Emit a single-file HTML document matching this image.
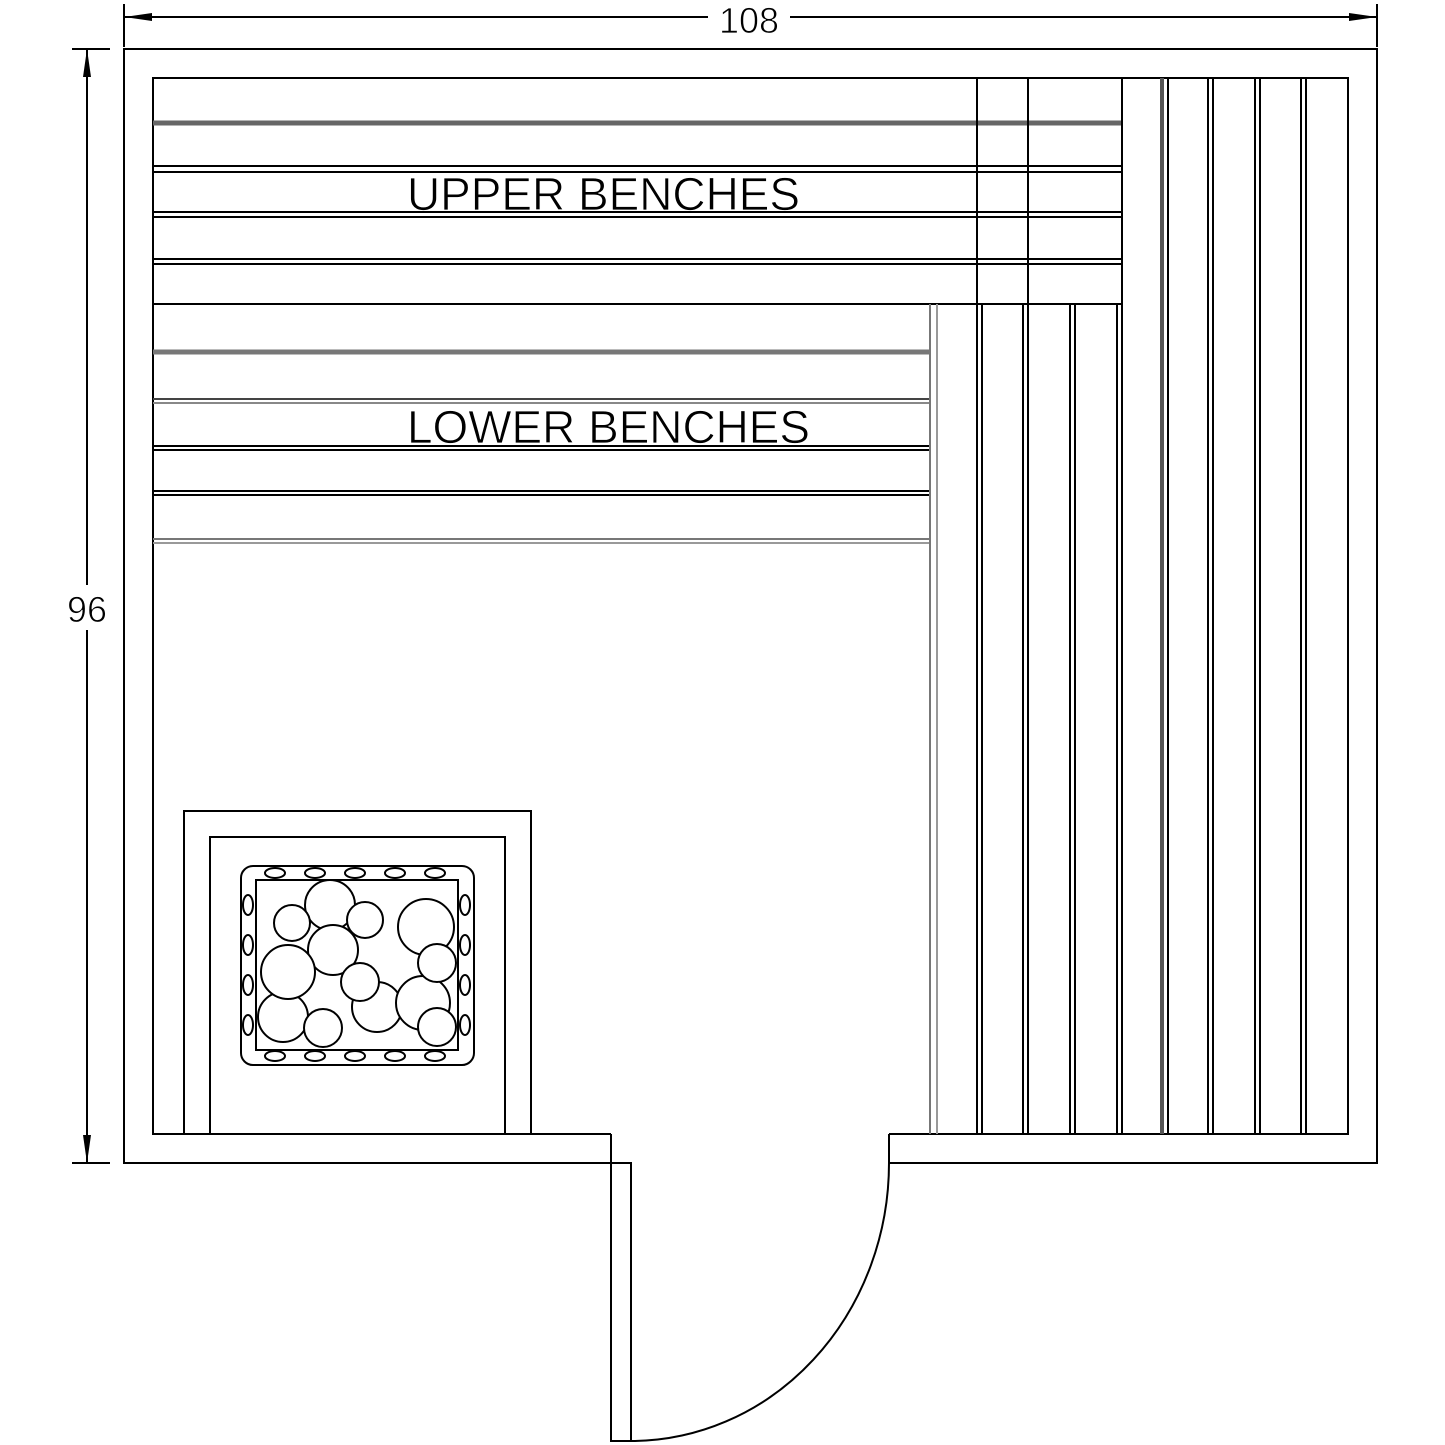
<!DOCTYPE html>
<html><head><style>html,body{margin:0;padding:0;background:#fff}svg{display:block}</style></head><body>
<svg width="1445" height="1445" viewBox="0 0 1445 1445" xmlns="http://www.w3.org/2000/svg">
<g fill="none" stroke="#000" stroke-width="2">
<!-- dimensions -->
<line x1="124" y1="4" x2="124" y2="47"/><line x1="1377" y1="4" x2="1377" y2="47"/>
<line x1="124" y1="17" x2="708" y2="17"/><line x1="790" y1="17" x2="1377" y2="17"/>
<line x1="72" y1="49" x2="110" y2="49"/><line x1="72" y1="1163" x2="110" y2="1163"/>
<line x1="87" y1="49" x2="87" y2="585"/><line x1="87" y1="630" x2="87" y2="1163"/>
<!-- walls -->
<polyline points="611,1163 124,1163 124,49 1377,49 1377,1163 889,1163"/>
<polyline points="611,1134 153,1134 153,78 1348,78 1348,1134 889,1134"/>
<line x1="611" y1="1134" x2="611" y2="1163"/><line x1="889" y1="1134" x2="889" y2="1163"/>
<!-- door -->
<rect x="611" y="1163" width="20" height="278"/>
<path d="M631 1441 A258 278 0 0 0 889 1163"/>
<!-- upper benches -->
<line x1="153" y1="123" x2="1122" y2="123" stroke="#666" stroke-width="5"/>
<line x1="153" y1="166" x2="1122" y2="166"/><line x1="153" y1="172" x2="1122" y2="172"/>
<line x1="153" y1="212" x2="1122" y2="212"/><line x1="153" y1="217" x2="1122" y2="217"/>
<line x1="153" y1="259" x2="1122" y2="259"/><line x1="153" y1="264" x2="1122" y2="264"/>
<line x1="153" y1="304" x2="1122" y2="304"/>
<line x1="977" y1="78" x2="977" y2="304"/><line x1="1028" y1="78" x2="1028" y2="304"/>
<line x1="1122" y1="78" x2="1122" y2="1134"/>
<!-- lower benches -->
<line x1="153" y1="352" x2="930" y2="352" stroke="#777" stroke-width="5"/>
<line x1="153" y1="399" x2="930" y2="399" stroke="#444"/><line x1="153" y1="403" x2="930" y2="403" stroke="#888"/>
<line x1="153" y1="446" x2="930" y2="446"/><line x1="153" y1="450" x2="930" y2="450"/>
<line x1="153" y1="491" x2="930" y2="491"/><line x1="153" y1="495" x2="930" y2="495"/>
<line x1="153" y1="539" x2="930" y2="539" stroke="#777"/><line x1="153" y1="543" x2="930" y2="543" stroke="#999"/>
<line x1="930" y1="304" x2="930" y2="1134" stroke="#777"/><line x1="937" y1="304" x2="937" y2="1134" stroke="#999"/>
<line x1="977" y1="304" x2="977" y2="1134"/><line x1="982" y1="304" x2="982" y2="1134"/>
<line x1="1023" y1="304" x2="1023" y2="1134"/><line x1="1028" y1="304" x2="1028" y2="1134"/>
<line x1="1070" y1="304" x2="1070" y2="1134"/><line x1="1075" y1="304" x2="1075" y2="1134"/>
<line x1="1117" y1="304" x2="1117" y2="1134"/>
<!-- right column -->
<line x1="1162" y1="78" x2="1162" y2="1134" stroke="#555" stroke-width="4"/><line x1="1168" y1="78" x2="1168" y2="1134"/>
<line x1="1208" y1="78" x2="1208" y2="1134"/><line x1="1213" y1="78" x2="1213" y2="1134"/>
<line x1="1255" y1="78" x2="1255" y2="1134"/><line x1="1260" y1="78" x2="1260" y2="1134"/>
<line x1="1301" y1="78" x2="1301" y2="1134"/><line x1="1306" y1="78" x2="1306" y2="1134"/>
<!-- heater -->
<polyline points="184,1134 184,811 531,811 531,1134"/>
<polyline points="210,1134 210,837 505,837 505,1134"/>
<rect x="241" y="866" width="233" height="199" rx="12"/>
<rect x="256" y="880" width="202" height="170"/>
<g fill="#fff">
<ellipse cx="275" cy="873" rx="10" ry="5"/><ellipse cx="315" cy="873" rx="10" ry="5"/><ellipse cx="355" cy="873" rx="10" ry="5"/><ellipse cx="395" cy="873" rx="10" ry="5"/><ellipse cx="435" cy="873" rx="10" ry="5"/>
<ellipse cx="275" cy="1056" rx="10" ry="5"/><ellipse cx="315" cy="1056" rx="10" ry="5"/><ellipse cx="355" cy="1056" rx="10" ry="5"/><ellipse cx="395" cy="1056" rx="10" ry="5"/><ellipse cx="435" cy="1056" rx="10" ry="5"/>
<ellipse cx="248" cy="905" rx="5" ry="10"/><ellipse cx="248" cy="945" rx="5" ry="10"/><ellipse cx="248" cy="985" rx="5" ry="10"/><ellipse cx="248" cy="1025" rx="5" ry="10"/>
<ellipse cx="465" cy="905" rx="5" ry="10"/><ellipse cx="465" cy="945" rx="5" ry="10"/><ellipse cx="465" cy="985" rx="5" ry="10"/><ellipse cx="465" cy="1025" rx="5" ry="10"/>
<circle cx="330" cy="905" r="25"/><circle cx="333" cy="950" r="25"/><circle cx="377" cy="1007" r="25"/><circle cx="423" cy="1003" r="27"/><circle cx="283" cy="1017" r="25"/>
<circle cx="292" cy="923" r="18"/><circle cx="365" cy="920" r="18"/><circle cx="426" cy="927" r="28"/><circle cx="288" cy="972" r="27"/><circle cx="360" cy="982" r="19"/><circle cx="437" cy="963" r="19"/><circle cx="323" cy="1028" r="19"/><circle cx="437" cy="1027" r="19"/>
</g>
</g>
<!-- arrows -->
<g fill="#000">
<polygon points="124,17 152,13 152,21"/><polygon points="1377,17 1349,13 1349,21"/>
<polygon points="87,49 83,77 91,77"/><polygon points="87,1163 83,1135 91,1135"/>
</g>
<g font-family="Liberation Sans, sans-serif" fill="#000" stroke="#fff" stroke-width="0.8">
<text x="749" y="33" font-size="36" text-anchor="middle">108</text>
<text x="87" y="622" font-size="36" text-anchor="middle">96</text>
<text x="407" y="210" font-size="46" textLength="393" lengthAdjust="spacingAndGlyphs">UPPER  BENCHES</text>
<text x="407" y="443" font-size="46" textLength="403" lengthAdjust="spacingAndGlyphs">LOWER  BENCHES</text>
</g>
</svg>
</body></html>
